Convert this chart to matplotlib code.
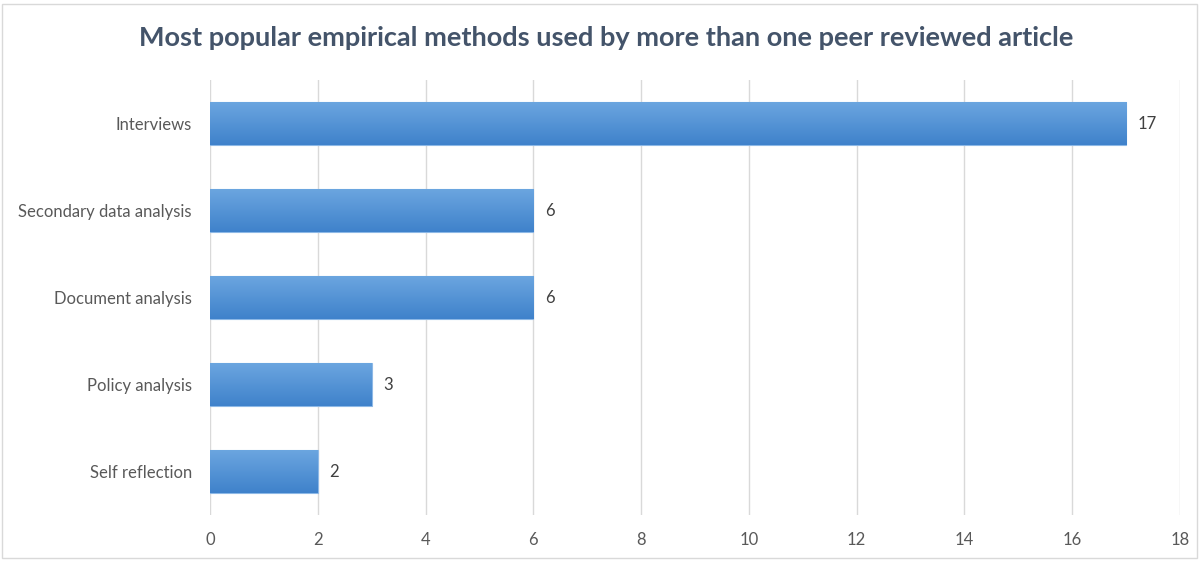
import numpy as np
import matplotlib.pyplot as plt
from matplotlib.patches import Rectangle
from matplotlib.colors import LinearSegmentedColormap

methods = ["Interviews", "Secondary data analysis", "Document analysis",
           "Policy analysis", "Self reflection"]
counts = [17, 6, 6, 3, 2]
xticks = [0, 2, 4, 6, 8, 10, 12, 14, 16, 18]

plt.rcParams['font.family'] = ['Lato', 'DejaVu Sans']

fig = plt.figure(figsize=(12.01, 5.61), dpi=100)
ax = fig.add_axes([0.1749, 0.082, 0.8076, 0.775])

ypos = np.arange(len(methods))
bars = ax.barh(ypos, counts, height=0.5, color='#5B9BD5', edgecolor='#8DB8E6',
               linewidth=0.8, zorder=2)

# vertical gradient fill, lighter at the top
grad = np.linspace(0, 1, 64).reshape(-1, 1)
cmap = LinearSegmentedColormap.from_list('g', ['#6CA6E0', '#3F82CB'])
for b in bars:
    x0, y0 = b.get_x(), b.get_y()
    w, h = b.get_width(), b.get_height()
    im = ax.imshow(grad, extent=(x0, x0 + w, y0 + h, y0), cmap=cmap,
                   aspect='auto', zorder=2.5, interpolation='bicubic')
    im.set_clip_path(b)

for y, v in zip(ypos, counts):
    ax.text(v + 0.22, y, str(v), va='center', ha='left', fontsize=12,
            color='#404040')

ax.set_xlim(0, 18)
ax.set_ylim(4.5, -0.5)
ax.set_xticks(xticks)
ax.set_yticks(ypos)
ax.set_yticklabels(methods)
ax.tick_params(axis='both', length=0, labelsize=12, colors='#595959')
ax.tick_params(axis='x', pad=12)
ax.tick_params(axis='y', pad=13)
ax.grid(axis='x', color='#D9D9D9', linewidth=1, zorder=0)
ax.set_axisbelow(True)
for s in ax.spines.values():
    s.set_visible(False)

fig.text(0.505, 0.932, "Most popular empirical methods used by more than one peer reviewed article",
         ha='center', va='center', fontsize=19.5, fontweight='bold', color='#44546A')

fig.patches.append(Rectangle((0.002, 0.006), 0.995, 0.986, transform=fig.transFigure,
                             fill=False, edgecolor='#D9D9D9', linewidth=1))

fig.savefig('out.png', dpi=100)
